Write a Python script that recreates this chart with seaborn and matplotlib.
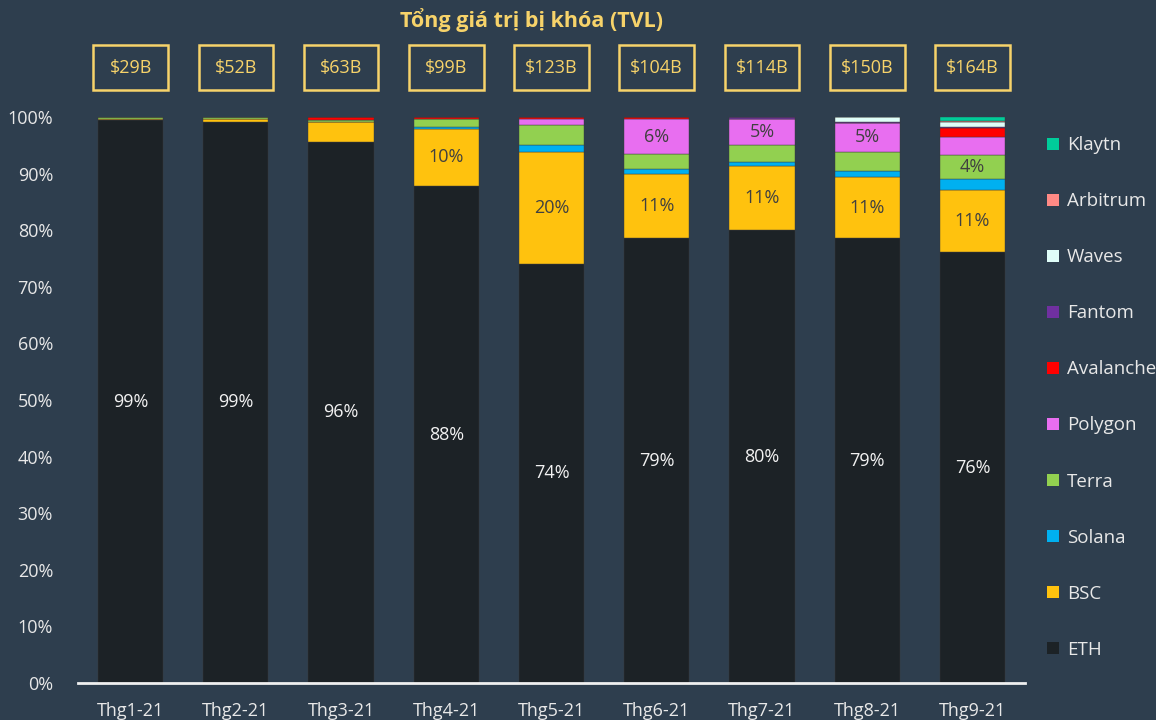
import pandas as pd
import matplotlib.pyplot as plt
import seaborn as sns
from matplotlib.lines import Line2D
from matplotlib.patches import Rectangle
from matplotlib.transforms import blended_transform_factory

months = ['Thg1-21', 'Thg2-21', 'Thg3-21', 'Thg4-21', 'Thg5-21',
          'Thg6-21', 'Thg7-21', 'Thg8-21', 'Thg9-21']
tvl = ['$29B', '$52B', '$63B', '$99B', '$123B', '$104B', '$114B', '$150B', '$164B']

# share of TVL per chain, in %
eth = [99.4, 99.2, 95.6, 87.8, 74.1, 78.6, 80.0, 78.6, 76.1]
bsc = [0.3, 0.5, 3.5, 10.1, 19.8, 11.3, 11.4, 10.8, 11.0]
solana = [0.0, 0.0, 0.1, 0.3, 1.2, 0.9, 0.7, 1.1, 1.9]
terra = [0.3, 0.3, 0.3, 1.4, 3.5, 2.6, 2.9, 3.4, 4.2]
polygon = [0.0, 0.0, 0.0, 0.0, 1.1, 6.2, 4.7, 5.0, 3.2]
avalanche = [0.0, 0.0, 0.5, 0.4, 0.3, 0.4, 0.0, 0.0, 1.6]
fantom = [0.0, 0.0, 0.0, 0.0, 0.0, 0.0, 0.3, 0.3, 0.2]
waves = [0.0, 0.0, 0.0, 0.0, 0.0, 0.0, 0.0, 0.8, 0.9]
arbitrum = [0.0, 0.0, 0.0, 0.0, 0.0, 0.0, 0.0, 0.0, 0.2]
klaytn = [0.0, 0.0, 0.0, 0.0, 0.0, 0.0, 0.0, 0.0, 0.7]

chains = ['ETH', 'BSC', 'Solana', 'Terra', 'Polygon', 'Avalanche',
          'Fantom', 'Waves', 'Arbitrum', 'Klaytn']
values = [eth, bsc, solana, terra, polygon, avalanche, fantom, waves, arbitrum, klaytn]
colors = ['#1c2226', '#ffc20e', '#00b0f0', '#92d050', '#e86ef0', '#ff0000',
          '#7030a0', '#dffdf8', '#ff8a85', '#00cc9a']

bg = '#2e3e4e'
yellow = '#f7d36a'

sns.set_theme(style='dark')
plt.rcParams['font.family'] = ['Open Sans', 'DejaVu Sans']

fig = plt.figure(figsize=(11.56, 7.2), dpi=100, facecolor=bg)
ax = fig.add_axes([0.0675, 0.0514, 0.8192, 0.7861], facecolor=bg)

bottom = [0.0] * len(months)
for name, vals, col in zip(chains, values, colors):
    df = pd.DataFrame({'month': months, 'share': vals})
    sns.barplot(data=df, x='month', y='share', order=months, color=col,
                width=0.62, bottom=bottom, edgecolor='#3a3a3a', linewidth=0.3,
                saturation=1, ax=ax)
    for i, v in enumerate(vals):
        if v >= 4:
            tc = '#f2f2f2' if name == 'ETH' else '#404040'
            ax.text(i, bottom[i] + v / 2, f'{round(v):.0f}%', ha='center', va='center',
                    fontsize=13, color=tc)
    bottom = [b + v for b, v in zip(bottom, vals)]

ax.set_xlim(-0.5, 8.5)
ax.set_ylim(0, 100)
ax.set_yticks(range(0, 101, 10))
ax.set_yticklabels([f'{t}%' for t in range(0, 101, 10)])
ax.set_xlabel('')
ax.set_ylabel('')
ax.tick_params(axis='both', colors='#e8e8e8', labelsize=13, length=0)
ax.tick_params(axis='x', pad=14)
ax.tick_params(axis='y', pad=18)
for s in ['top', 'right', 'left']:
    ax.spines[s].set_visible(False)
ax.spines['bottom'].set_color('#f0f0f0')
ax.spines['bottom'].set_linewidth(2)
ax.grid(False)

# TVL boxes above the bars
trans = blended_transform_factory(ax.transData, fig.transFigure)
for i, lab in enumerate(tvl):
    ax.add_patch(Rectangle((i - 0.355, 0.875), 0.71, 0.0625, transform=trans,
                           fill=False, edgecolor=yellow, linewidth=1.8, clip_on=False))
    ax.text(i, 0.906, lab, transform=trans, ha='center', va='center',
            fontsize=13, color=yellow)

fig.text(0.46, 0.972, 'Tổng giá trị bị khóa (TVL)', ha='center', va='center',
         fontsize=15.5, fontweight='bold', color=yellow)

handles = [Line2D([], [], marker='s', linestyle='', markersize=9, color=c,
                  markeredgewidth=0) for c in colors]
leg = fig.legend(handles[::-1], chains[::-1], loc='center left',
                 bbox_to_anchor=(0.905, 0.448), frameon=False, fontsize=13.5,
                 labelspacing=2.03, handlelength=0.7, handletextpad=0.4,
                 borderpad=0, borderaxespad=0, labelcolor='#e8e8e8')

fig.savefig('out.png', dpi=100, facecolor=bg)
